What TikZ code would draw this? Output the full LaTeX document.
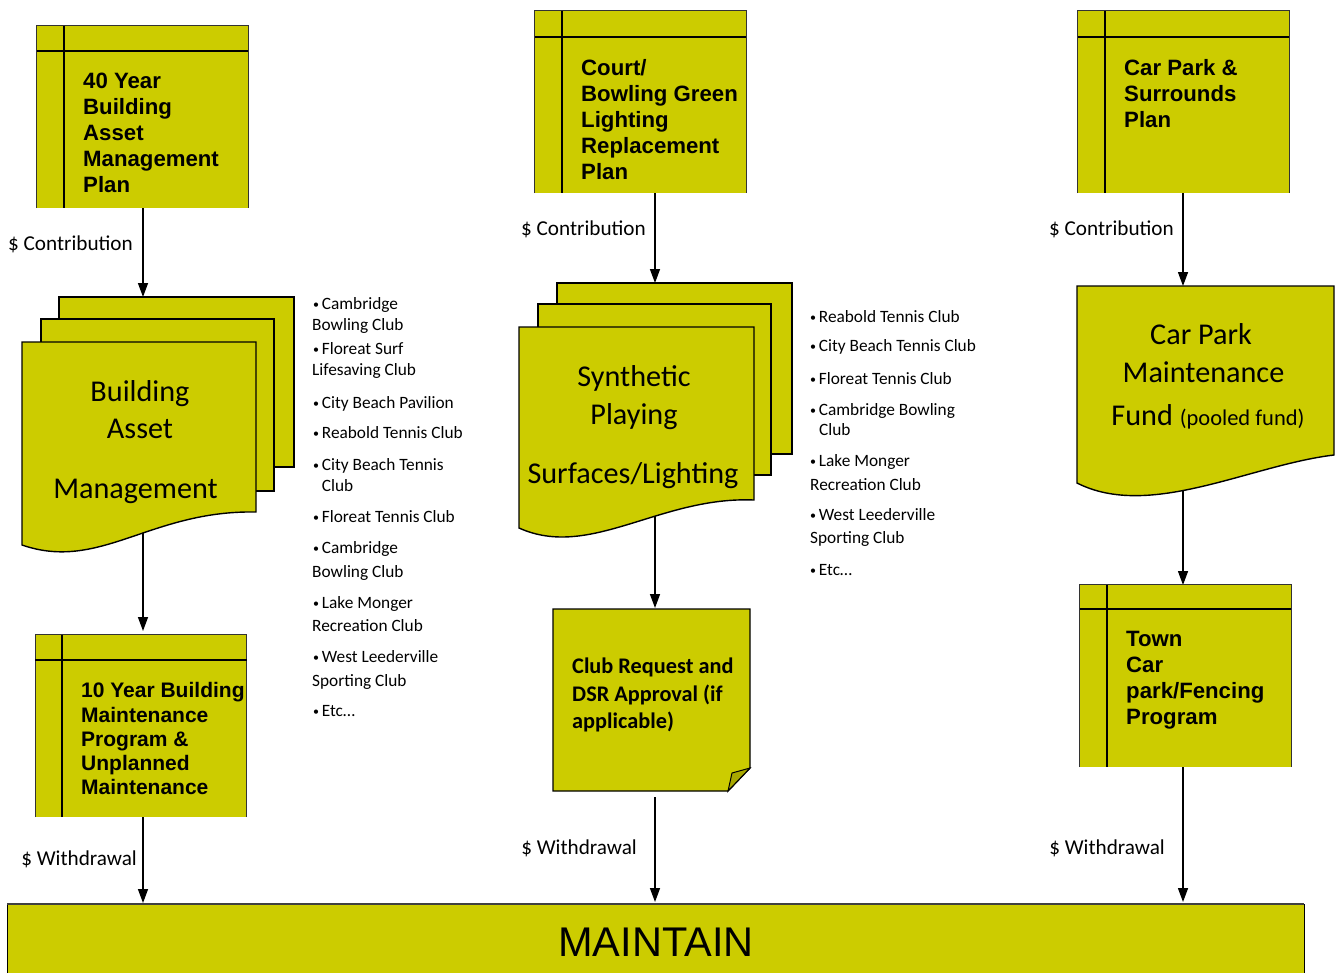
\documentclass[tikz,border=0pt]{standalone}
\usepackage{fontspec}
\setmainfont{Carlito}
\newfontfamily\arialf{Liberation Sans}
\usetikzlibrary{arrows.meta}
\definecolor{padyellow}{RGB}{204,204,0}
\definecolor{foldyellow}{RGB}{168,168,0}
% small list bullet
\newcommand{\itm}{\makebox[8.7pt][l]{\raisebox{1pt}{\fontsize{12}{12}\selectfont •}}}
% storage box: name, centre, offset of the vertical rule, offset of the horizontal rule
\newcommand{\storagebox}[4]{%
  \node[store] (#1) at (#2) {};
  \draw[rim] (#1.south west) -- (#1.north west) -- (#1.north east) -- (#1.south east);
  \draw[storeline] ([xshift=#3pt]#1.north west) -- ([xshift=#3pt]#1.south west);
  \draw[storeline] ([yshift=-#4pt]#1.north west) -- ([yshift=-#4pt]#1.north east);
}
\begin{document}
\begin{tikzpicture}[x=1pt,y=-1pt,
  sheet/.style={fill=padyellow, draw=black, line width=1.4pt},
  store/.style={rectangle, fill=padyellow, draw=none, inner sep=0pt,
                minimum width=211pt, minimum height=182pt},
  storeline/.style={line width=2pt},
  rim/.style={draw=black!80, line width=0.9pt},
  conn/.style={line width=1.4pt, -{Triangle[length=14pt,width=10pt]}},
  boxtext/.style={anchor=north west, inner sep=0pt, align=left,
                  font=\arialf\bfseries\fontsize{22.2}{26}\selectfont},
  doctext/.style={anchor=base, inner sep=0pt, font=\fontsize{30.2}{36}\selectfont},
  flowlabel/.style={anchor=base east, inner sep=0pt, font=\fontsize{21.2}{25}\selectfont},
  listitem/.style={anchor=base west, inner sep=0pt, font=\fontsize{17.3}{20}\selectfont},
]
\useasboundingbox (0,0) rectangle (1340,972);

% connector end points
\coordinate (plan40-out) at (143,208);
\coordinate (bam-in)     at (143,297);
\coordinate (bam-out)    at (143,530);
\coordinate (tenyr-in)   at (143,631);
\coordinate (tenyr-out)  at (143,817);
\coordinate (maint-a)    at (143,903);
\coordinate (court-out)  at (655,193);
\coordinate (spl-in)     at (655,283);
\coordinate (spl-out)    at (655,515);
\coordinate (club-in)    at (655,608);
\coordinate (club-out)   at (655,797);
\coordinate (maint-b)    at (655,902);
\coordinate (cpp-out)    at (1183,193);
\coordinate (cpf-in)     at (1183,286);
\coordinate (cpf-out)    at (1183,485);
\coordinate (town-in)    at (1183,585);
\coordinate (town-out)   at (1183,767);
\coordinate (maint-c)    at (1183,902);

% connectors
\draw[conn] (plan40-out) -- (bam-in);
\draw[conn] (bam-out) -- (tenyr-in);
\draw[conn] (tenyr-out) -- (maint-a);
\draw[conn] (court-out) -- (spl-in);
\draw[conn] (spl-out) -- (club-in);
\draw[conn] (club-out) -- (maint-b);
\draw[conn] (cpp-out) -- (cpf-in);
\draw[conn] (cpf-out) -- (town-in);
\draw[conn] (town-out) -- (maint-c);

% plans and programs
\storagebox{plan40}{142.5,117}{27}{25}
\storagebox{court}{640.5,102}{27}{26}
\storagebox{cpp}{1183.5,102}{27}{26}
\storagebox{tenyr}{141,726}{27}{25}
\storagebox{town}{1185.5,676}{27}{24}

\node[boxtext] (plan40-t) at (83,73.2) {40 Year\\Building\\Asset\\Management\\Plan};
\node[boxtext] (court-t) at (581,59.5) {Court/\\Bowling Green\\Lighting\\Replacement\\Plan};
\node[boxtext] (cpp-t) at (1124,59) {Car Park \&\\Surrounds\\Plan};
\node[boxtext, font=\arialf\bfseries\fontsize{21}{24.2}\selectfont] (tenyr-t) at (81,682.5)
  {10 Year Building\\Maintenance\\Program \&\\Unplanned\\Maintenance};
\node[boxtext] (town-t) at (1126,631) {Town\\Car\\park/Fencing\\Program};

% building asset management documents
\path[sheet] (59,297) rectangle (294,467);
\path[sheet] (41,319) rectangle (274,491);
\path[sheet] (22,342) -- (256,342) -- (256,512) .. controls (150,510) and (100,572) .. (22,545) -- cycle;
\node[doctext] (bam-1) at (140,401.7) {Building};
\node[doctext] (bam-2) at (140,438.3) {Asset};
\node[doctext] (bam-3) at (135.5,498.3) {Management};

% synthetic surfaces documents
\path[sheet] (557,283) rectangle (792,454);
\path[sheet] (538,304) rectangle (771,475);
\path[sheet] (519,327) -- (754,327) -- (754,500) .. controls (660,496) and (590,560) .. (519,528) -- cycle;
\node[doctext] (spl-1) at (634,386.7) {Synthetic};
\node[doctext] (spl-2) at (634,424.5) {Playing};
\node[doctext] (spl-3) at (633,483.3) {Surfaces/Lighting};

% car park fund document
\path[sheet] (1077,286) -- (1334,286) -- (1334,455) .. controls (1250,465) and (1150,520) .. (1077,483) -- cycle;
\node[doctext] (cpf-1) at (1201,344) {Car Park};
\node[doctext] (cpf-2) at (1203.5,382.7) {Maintenance};
\node[doctext] (cpf-3) at (1208,425.7) {Fund {\fontsize{22.5}{26}\selectfont(pooled fund)}};

% club request note with folded corner
\path[sheet] (553,609) -- (750,609) -- (750,768) -- (728,791) -- (553,791) -- cycle;
\path[fill=foldyellow, draw=black, line width=1pt] (750,768) -- (732,773) -- (728,791) -- cycle;
\node[anchor=north west, inner sep=0pt, align=left, font=\bfseries\fontsize{22.3}{27.5}\selectfont]
  (club-t) at (572,658) {Club Request and\\DSR Approval (if\\applicable)};

% maintain bar
\path[fill=padyellow] (7,904) rectangle (1304,976);
\draw[line width=0.9pt] (7,976) -- (7,904) -- (1304,904) -- (1304,976);
\draw[line width=2pt, draw=black!75] (7,904) -- (1304,904);
\node[anchor=base, inner sep=0pt, font=\arialf\fontsize{41.5}{48}\selectfont] (maint-t) at (656,956.5) {MAINTAIN};

% flow labels
\node[flowlabel] (lab-c1) at (133,250.5) {\$ Contribution};
\node[flowlabel] (lab-c2) at (646,235.5) {\$ Contribution};
\node[flowlabel] (lab-c3) at (1174,235.5) {\$ Contribution};
\node[flowlabel] (lab-w1) at (137,865.5) {\$ Withdrawal};
\node[flowlabel] (lab-w2) at (637,854.5) {\$ Withdrawal};
\node[flowlabel] (lab-w3) at (1165,854.5) {\$ Withdrawal};

% building list
\foreach \x/\y/\t [count=\i] in {
  313/309/\itm Cambridge, 312/330/Bowling Club,
  313/354/\itm Floreat Surf, 312/375/Lifesaving Club,
  313/408.3/\itm City Beach Pavilion,
  313/438.3/\itm Reabold Tennis Club,
  313/470/\itm City Beach Tennis, 321.7/491.7/Club,
  313/522.7/\itm Floreat Tennis Club,
  313/553.3/\itm Cambridge, 312/577.7/Bowling Club,
  313/608.3/\itm Lake Monger, 312/631.7/Recreation Club,
  313/662.7/\itm West Leederville, 312/686/Sporting Club,
  313/716.7/\itm Etc…}
  \node[listitem] (bl-\i) at (\x,\y) {\t};

% surfaces list
\foreach \x/\y/\t [count=\i] in {
  810/322.3/\itm Reabold Tennis Club,
  810/351.7/\itm City Beach Tennis Club,
  810/384.3/\itm Floreat Tennis Club,
  810/415/\itm Cambridge Bowling, 819/435/Club,
  810/466.7/\itm Lake Monger, 810/490/Recreation Club,
  810/520/\itm West Leederville, 810/543.3/Sporting Club,
  810/575/\itm Etc…}
  \node[listitem] (sl-\i) at (\x,\y) {\t};
\end{tikzpicture}
\end{document}
